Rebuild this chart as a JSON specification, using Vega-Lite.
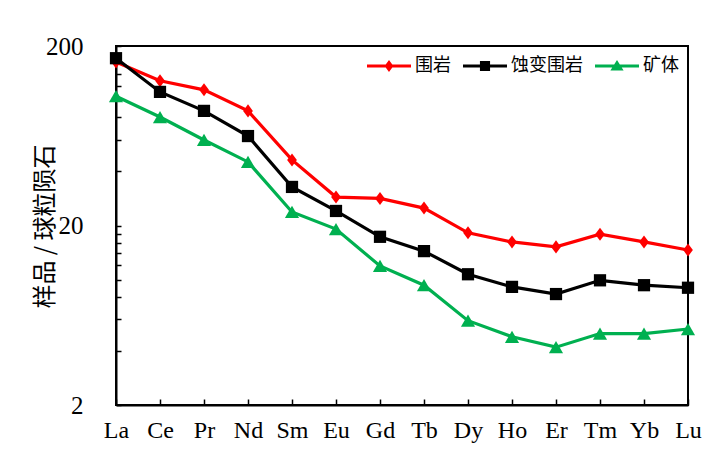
{
  "$schema": "https://vega.github.io/schema/vega-lite/v6.json",
  "width": 572,
  "height": 359,
  "autosize": {"type": "none"},
  "padding": {"left": 116, "top": 46, "right": 20, "bottom": 55},
  "background": "white",
  "config": {
    "view": {"stroke": "#000", "strokeWidth": 2},
    "axis": {"grid": false, "domainColor": "#000", "domainWidth": 2, "tickColor": "#000", "tickWidth": 1.5, "labelColor": "#000", "titleColor": "#000"}
  },
  "data": {"values": [
    {"el": "La", "series": "围岩", "v": 163},
    {"el": "Ce", "series": "围岩", "v": 128},
    {"el": "Pr", "series": "围岩", "v": 114},
    {"el": "Nd", "series": "围岩", "v": 87},
    {"el": "Sm", "series": "围岩", "v": 46.4},
    {"el": "Eu", "series": "围岩", "v": 28.8},
    {"el": "Gd", "series": "围岩", "v": 28.3},
    {"el": "Tb", "series": "围岩", "v": 25.0},
    {"el": "Dy", "series": "围岩", "v": 18.2},
    {"el": "Ho", "series": "围岩", "v": 16.2},
    {"el": "Er", "series": "围岩", "v": 15.2},
    {"el": "Tm", "series": "围岩", "v": 17.9},
    {"el": "Yb", "series": "围岩", "v": 16.2},
    {"el": "Lu", "series": "围岩", "v": 14.6},
    {"el": "La", "series": "蚀变围岩", "v": 171},
    {"el": "Ce", "series": "蚀变围岩", "v": 111},
    {"el": "Pr", "series": "蚀变围岩", "v": 87},
    {"el": "Nd", "series": "蚀变围岩", "v": 63},
    {"el": "Sm", "series": "蚀变围岩", "v": 32.8},
    {"el": "Eu", "series": "蚀变围岩", "v": 24.1},
    {"el": "Gd", "series": "蚀变围岩", "v": 17.3},
    {"el": "Tb", "series": "蚀变围岩", "v": 14.4},
    {"el": "Dy", "series": "蚀变围岩", "v": 10.7},
    {"el": "Ho", "series": "蚀变围岩", "v": 9.1},
    {"el": "Er", "series": "蚀变围岩", "v": 8.3},
    {"el": "Tm", "series": "蚀变围岩", "v": 9.9},
    {"el": "Yb", "series": "蚀变围岩", "v": 9.3},
    {"el": "Lu", "series": "蚀变围岩", "v": 9.0},
    {"el": "La", "series": "矿体", "v": 105},
    {"el": "Ce", "series": "矿体", "v": 80.4},
    {"el": "Pr", "series": "矿体", "v": 59.9},
    {"el": "Nd", "series": "矿体", "v": 45.2},
    {"el": "Sm", "series": "矿体", "v": 23.8},
    {"el": "Eu", "series": "矿体", "v": 19.1},
    {"el": "Gd", "series": "矿体", "v": 11.9},
    {"el": "Tb", "series": "矿体", "v": 9.3},
    {"el": "Dy", "series": "矿体", "v": 5.9},
    {"el": "Ho", "series": "矿体", "v": 4.8},
    {"el": "Er", "series": "矿体", "v": 4.2},
    {"el": "Tm", "series": "矿体", "v": 5.0},
    {"el": "Yb", "series": "矿体", "v": 5.0},
    {"el": "Lu", "series": "矿体", "v": 5.3}
  ]},
  "resolve": {"axis": {"x": "independent", "y": "independent"}},
  "layer": [
    {
      "mark": {"type": "line", "strokeWidth": 3.2},
      "encoding": {
        "x": {
          "field": "el", "type": "ordinal", "sort": null,
          "scale": {"type": "point", "padding": 0},
          "axis": {"orient": "bottom", "title": null, "labelAngle": 0, "labelFont": "Liberation Serif", "labelFontSize": 24, "labelPadding": 13, "ticks": false, "domain": true}
        },
        "y": {
          "field": "v", "type": "quantitative",
          "scale": {"type": "log", "domain": [2, 200], "nice": false},
          "axis": {
            "orient": "left",
            "title": "样品 / 球粒陨石", "titleFont": "Noto Sans CJK SC", "titleFontSize": 24, "titleFontWeight": "normal",
            "titleX": -71, "titleY": 180, "titleBaseline": "middle", "titleAngle": -90, "titleAlign": "center",
            "values": [2, 20, 200],
            "labelFont": "Liberation Serif", "labelFontSize": 25, "labelPadding": 33, "ticks": false
          }
        },
        "color": {
          "field": "series", "type": "nominal",
          "scale": {"domain": ["围岩", "蚀变围岩", "矿体"], "range": ["#FF0000", "#000000", "#00B050"]},
          "legend": {
            "title": null, "orient": "none", "direction": "horizontal", "legendX": 251, "legendY": -2,
            "symbolSize": 1936, "labelOffset": 4, "columnPadding": 12,
            "labelFont": "Noto Sans CJK SC", "labelFontSize": 18, "labelColor": "#000",
            "encode": {"symbols": {"update": {
              "shape": {"signal": "datum.value === '围岩' ? 'M-1,-0.07L1,-0.07L1,0.07L-1,0.07Z M0,-0.27L0.2,0L0,0.27L-0.2,0Z' : (datum.value === '蚀变围岩' ? 'M-1,-0.07L1,-0.07L1,0.07L-1,0.07Z M-0.23,-0.23L0.23,-0.23L0.23,0.23L-0.23,0.23Z' : 'M-1,-0.07L1,-0.07L1,0.07L-1,0.07Z M0,-0.27L0.3,0.2L-0.3,0.2Z')"},
              "size": {"value": 1936},
              "fill": {"scale": "color", "field": "value"},
              "stroke": {"value": "transparent"},
              "strokeWidth": {"value": 0},
              "opacity": {"value": 1}
            }}}
          }
        }
      }
    },
    {
      "transform": [{"filter": "datum.series === '围岩'"}],
      "mark": {"type": "point", "filled": true, "opacity": 1, "strokeWidth": 0, "color": "#FF0000", "shape": "M0,-1L0.75,0L0,1L-0.75,0Z", "size": 170},
      "encoding": {
        "x": {
          "field": "el", "type": "ordinal", "sort": null,
          "axis": {"orient": "top", "offset": -359, "title": null, "labels": false, "domain": false, "ticks": true, "tickSize": 6}
        },
        "y": {
          "field": "v", "type": "quantitative",
          "axis": {
            "orient": "right", "offset": -572, "title": null, "labels": false, "domain": false, "ticks": true, "tickSize": 5,
            "values": [2, 4, 6, 8, 10, 12, 14, 16, 18, 20, 40, 60, 80, 100, 120, 140, 160, 180, 200]
          }
        }
      }
    },
    {
      "transform": [{"filter": "datum.series === '蚀变围岩'"}],
      "mark": {"type": "point", "filled": true, "opacity": 1, "strokeWidth": 0, "color": "#000000", "shape": "square", "size": 150},
      "encoding": {
        "x": {"field": "el", "type": "ordinal", "sort": null, "axis": null},
        "y": {"field": "v", "type": "quantitative", "axis": null}
      }
    },
    {
      "transform": [{"filter": "datum.series === '矿体'"}],
      "mark": {"type": "point", "filled": true, "opacity": 1, "strokeWidth": 0, "color": "#00B050", "shape": "triangle-up", "size": 200},
      "encoding": {
        "x": {"field": "el", "type": "ordinal", "sort": null, "axis": null},
        "y": {"field": "v", "type": "quantitative", "axis": null}
      }
    }
  ]
}
